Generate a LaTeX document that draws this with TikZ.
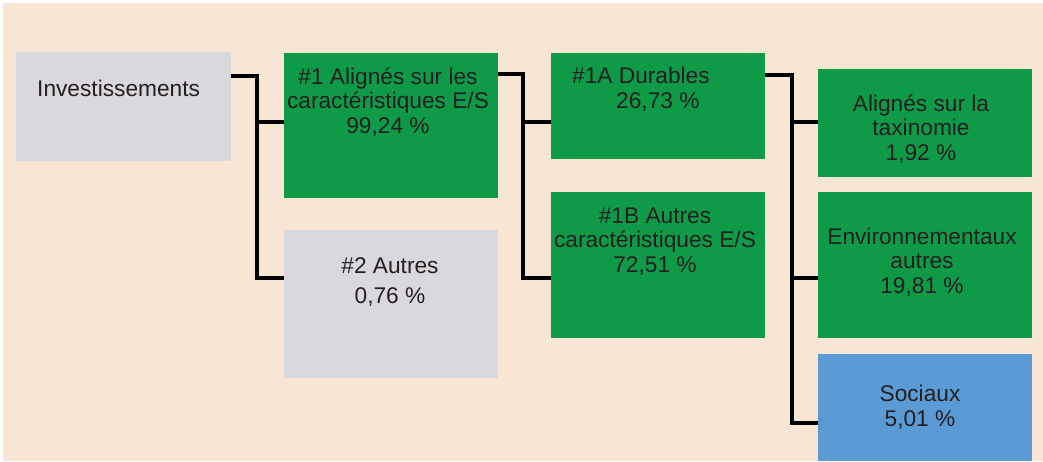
\documentclass[tikz,border=0pt]{standalone}
\usepackage{fontspec}
\setmainfont{Liberation Sans}
\definecolor{peach}{HTML}{F8E6D4}
\definecolor{boxgreen}{HTML}{0F9A48}
\definecolor{boxgray}{HTML}{DBD8DD}
\definecolor{boxblue}{HTML}{5B9BD5}
\definecolor{ink}{HTML}{231F20}
\tikzset{
  box/.style={rectangle, inner sep=0pt, outer sep=0pt, anchor=north west},
  gbox/.style={box, fill=boxgreen},
  graybox/.style={box, fill=boxgray},
  bbox/.style={box, fill=boxblue},
  conn/.style={line width=4pt, black, line join=miter},
  txt/.style={inner sep=0pt, text=ink, align=center, font=\fontsize{22.7}{24.5}\selectfont},
}
\begin{document}
\begin{tikzpicture}[x=1pt,y=-1pt]
\useasboundingbox (0,0) rectangle (1043,461);
\fill[white] (0,0) rectangle (1043,461);
\fill[peach] (3,3) rectangle (1043,461);
% boxes
\node[graybox, minimum width=215pt, minimum height=109pt] (inv) at (16,52) {};
\node[gbox, minimum width=214pt, minimum height=145pt] (n1) at (284,53) {};
\node[graybox, minimum width=214pt, minimum height=148pt] (n2) at (284,230) {};
\node[gbox, minimum width=214pt, minimum height=106pt] (n1a) at (551,53) {};
\node[gbox, minimum width=214pt, minimum height=146pt] (n1b) at (551,192) {};
\node[gbox, minimum width=214pt, minimum height=108pt] (tax) at (818,69) {};
\node[gbox, minimum width=214pt, minimum height=146pt] (env) at (818,192) {};
\node[bbox, minimum width=214pt, minimum height=107pt] (soc) at (818,354) {};
% texts (anchor base = baseline of the last line)
\node[txt, anchor=base west] (tinv) at (37,96) {Investissements};
\node[txt, anchor=base] (tn1) at (388,133) {\#1 Alignés sur les\\caractéristiques E/S\\99,24 \%};
\node[txt, anchor=base, font=\fontsize{22.7}{30}\selectfont] (tn2) at (390,303) {\#2 Autres\\0,76 \%};
\node[txt, anchor=base west, align=left] (tn1a) at (572,108) {\#1A Durables\\\hspace*{44pt}26,73 \%};
\node[txt, anchor=base] (tn1b) at (655,272) {\#1B Autres\\caractéristiques E/S\\72,51 \%};
\node[txt, anchor=base] (ttax) at (921,160) {Alignés sur la\\taxinomie\\1,92 \%};
\node[txt, anchor=base] (tenv) at (922,293) {Environnementaux\\autres\\19,81 \%};
\node[txt, anchor=base] (tsoc) at (920,426) {Sociaux\\5,01 \%};
% junction coordinates
\coordinate (a1) at (257,76);
\coordinate (a2) at (257,278);
\coordinate (a3) at (257,122);
\coordinate (b1) at (523,74);
\coordinate (b2) at (523,278);
\coordinate (b3) at (523,122);
\coordinate (c1) at (792,75);
\coordinate (c2) at (792,423);
\coordinate (c3) at (792,122);
\coordinate (c4) at (792,278);
% connectors
\draw[conn] (inv.east |- a1) -- (a1) -- (a2) -- (n2.west |- a2);
\draw[conn] (a3) -- (n1.west |- a3);
\draw[conn] (n1.east |- b1) -- (b1) -- (b2) -- (n1b.west |- b2);
\draw[conn] (b3) -- (n1a.west |- b3);
\draw[conn] (n1a.east |- c1) -- (c1) -- (c2) -- (soc.west |- c2);
\draw[conn] (c3) -- (tax.west |- c3);
\draw[conn] (c4) -- (env.west |- c4);
\end{tikzpicture}
\end{document}
